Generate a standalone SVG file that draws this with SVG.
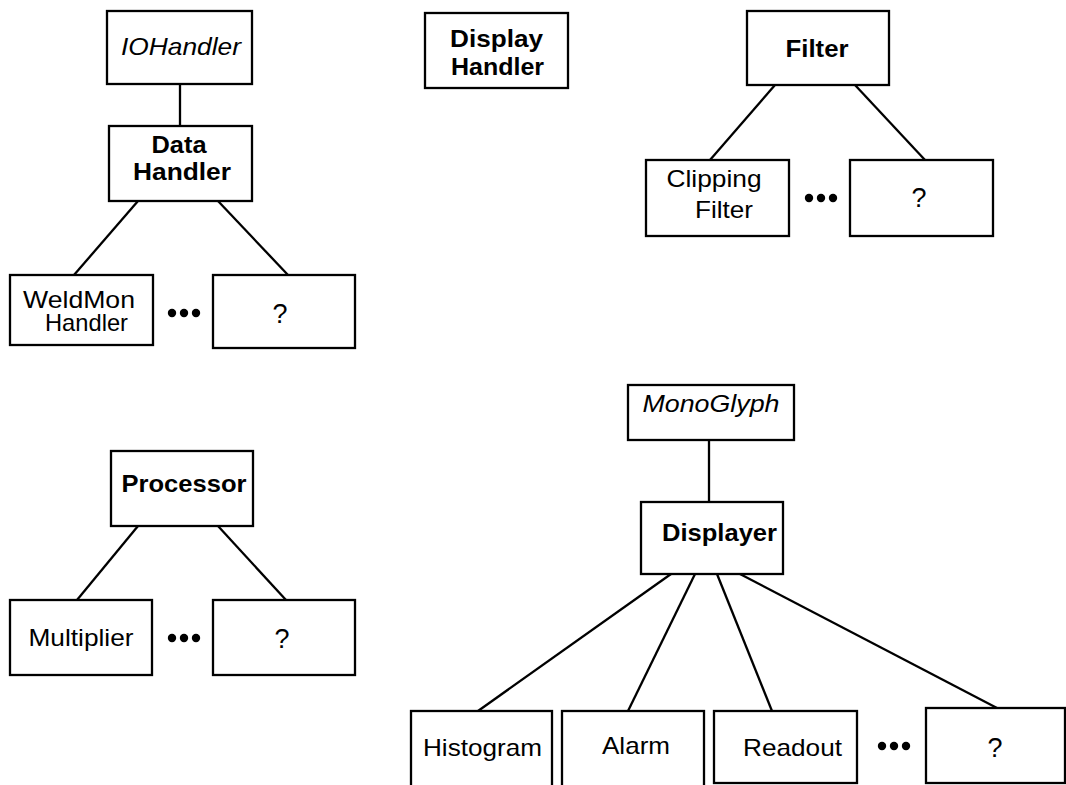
<svg xmlns="http://www.w3.org/2000/svg" width="1066" height="785" viewBox="0 0 1066 785">
  <style>
    .box { fill: #fff; stroke: #000; stroke-width: 2.3; }
    .edge { stroke: #000; stroke-width: 2.3; fill: none; }
    text { font-family: "Liberation Sans", Arial, sans-serif; font-size: 24px; fill: #000; text-anchor: middle; }
    .b { font-weight: bold; }
    .i { font-style: italic; }
    .q { font-size: 27px; }
    .dot { fill: #000; }
  </style>
  <defs>
    <g id="ellipsis">
      <circle class="dot" cx="0" cy="0" r="4.2"/>
      <circle class="dot" cx="12" cy="0" r="4.2"/>
      <circle class="dot" cx="24" cy="0" r="4.2"/>
    </g>
  </defs>

  <!-- connectors -->
  <g id="connectors">
    <line class="edge" x1="180" y1="84" x2="180" y2="126"/>
    <line class="edge" x1="138" y1="201" x2="74" y2="275"/>
    <line class="edge" x1="218" y1="201" x2="288" y2="275"/>

    <line class="edge" x1="775" y1="85" x2="710" y2="160"/>
    <line class="edge" x1="855" y1="85" x2="925" y2="160"/>

    <line class="edge" x1="138" y1="526" x2="77" y2="600"/>
    <line class="edge" x1="218" y1="526" x2="286" y2="600"/>

    <line class="edge" x1="709" y1="440" x2="709" y2="502"/>
    <line class="edge" x1="671" y1="574" x2="478" y2="711"/>
    <line class="edge" x1="695" y1="574" x2="628" y2="711"/>
    <line class="edge" x1="717" y1="574" x2="772" y2="711"/>
    <line class="edge" x1="740" y1="574" x2="997" y2="708"/>
  </g>

  <!-- DataHandler hierarchy -->
  <g id="iohandler">
    <rect class="box" x="107" y="11" width="145" height="73"/>
    <text class="i" x="181" y="55" font-size="26" textLength="120" lengthAdjust="spacingAndGlyphs">IOHandler</text>
  </g>
  <g id="datahandler">
    <rect class="box" x="109" y="126" width="143" height="75"/>
    <text class="b" x="179" y="153" font-size="23" textLength="55" lengthAdjust="spacingAndGlyphs">Data</text>
    <text class="b" x="182" y="180" font-size="23" textLength="98" lengthAdjust="spacingAndGlyphs">Handler</text>
  </g>
  <g id="weldmonhandler">
    <rect class="box" x="10" y="275" width="143" height="70"/>
    <text x="79" y="308" font-size="23" textLength="112" lengthAdjust="spacingAndGlyphs">WeldMon</text>
    <text x="86.5" y="331" textLength="83" lengthAdjust="spacingAndGlyphs">Handler</text>
  </g>
  <use href="#ellipsis" x="172" y="313"/>
  <g id="datahandler-other">
    <rect class="box" x="213" y="275" width="142" height="73"/>
    <text class="q" x="280" y="323">?</text>
  </g>

  <!-- DisplayHandler -->
  <g id="displayhandler">
    <rect class="box" x="425" y="13" width="143" height="75"/>
    <text class="b" x="496.5" y="47" font-size="25" textLength="93" lengthAdjust="spacingAndGlyphs">Display</text>
    <text class="b" x="497.5" y="75" font-size="25" textLength="93" lengthAdjust="spacingAndGlyphs">Handler</text>
  </g>

  <!-- Filter hierarchy -->
  <g id="filter">
    <rect class="box" x="747" y="11" width="142" height="74"/>
    <text class="b" x="817" y="57" textLength="63" lengthAdjust="spacingAndGlyphs">Filter</text>
  </g>
  <g id="clippingfilter">
    <rect class="box" x="646" y="160" width="143" height="76"/>
    <text x="714" y="187" textLength="95" lengthAdjust="spacingAndGlyphs">Clipping</text>
    <text x="724" y="218" textLength="58" lengthAdjust="spacingAndGlyphs">Filter</text>
  </g>
  <use href="#ellipsis" x="809" y="198"/>
  <g id="filter-other">
    <rect class="box" x="850" y="160" width="143" height="76"/>
    <text class="q" x="919" y="207">?</text>
  </g>

  <!-- Processor hierarchy -->
  <g id="processor">
    <rect class="box" x="111" y="451" width="142" height="75"/>
    <text class="b" x="184" y="492" font-size="25" textLength="125" lengthAdjust="spacingAndGlyphs">Processor</text>
  </g>
  <g id="multiplier">
    <rect class="box" x="10" y="600" width="142" height="75"/>
    <text x="81" y="646" textLength="105" lengthAdjust="spacingAndGlyphs">Multiplier</text>
  </g>
  <use href="#ellipsis" x="172" y="638"/>
  <g id="processor-other">
    <rect class="box" x="213" y="600" width="142" height="75"/>
    <text class="q" x="282" y="648">?</text>
  </g>

  <!-- Displayer hierarchy -->
  <g id="monoglyph">
    <rect class="box" x="628" y="385" width="166" height="55"/>
    <text class="i" x="711" y="412" textLength="137" lengthAdjust="spacingAndGlyphs">MonoGlyph</text>
  </g>
  <g id="displayer">
    <rect class="box" x="641" y="502" width="142" height="72"/>
    <text class="b" x="719.5" y="541" textLength="115" lengthAdjust="spacingAndGlyphs">Displayer</text>
  </g>
  <g id="histogram">
    <rect class="box" x="411" y="711" width="141" height="80"/>
    <text x="482.5" y="756" textLength="119" lengthAdjust="spacingAndGlyphs">Histogram</text>
  </g>
  <g id="alarm">
    <rect class="box" x="562" y="711" width="142" height="80"/>
    <text x="636" y="754" textLength="68" lengthAdjust="spacingAndGlyphs">Alarm</text>
  </g>
  <g id="readout">
    <rect class="box" x="714" y="711" width="143" height="72"/>
    <text x="792.5" y="756" textLength="99" lengthAdjust="spacingAndGlyphs">Readout</text>
  </g>
  <use href="#ellipsis" x="882" y="746"/>
  <g id="displayer-other">
    <rect class="box" x="926" y="708" width="139" height="75"/>
    <text class="q" x="995" y="757">?</text>
  </g>
</svg>
